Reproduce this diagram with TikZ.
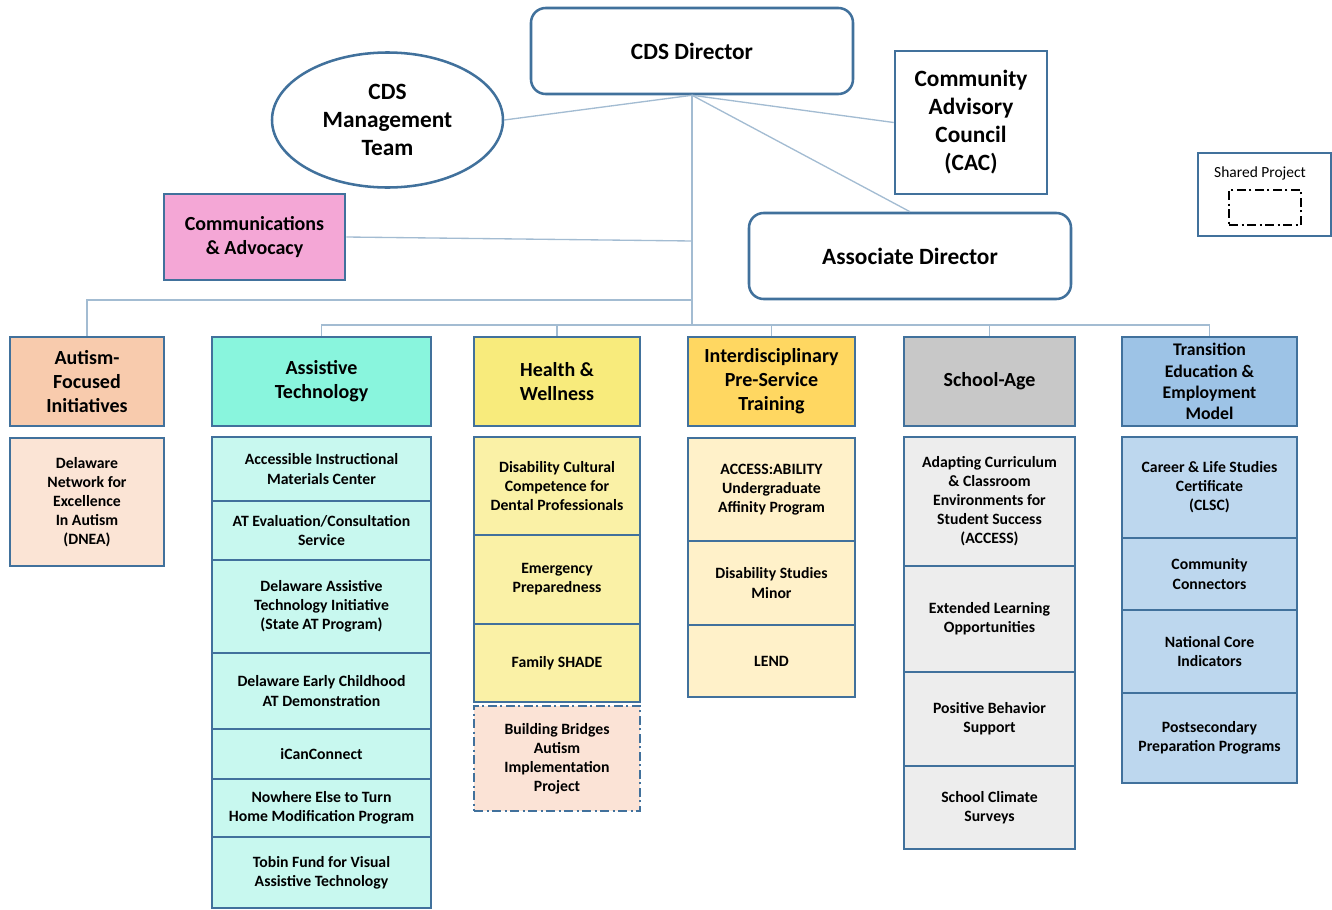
\documentclass[tikz,border=0pt]{standalone}
\usepackage{fontspec}
\setmainfont{Carlito}
\usepackage{xcolor}
\usepackage{tikz}
\usetikzlibrary{shapes.geometric}

\definecolor{bordc}{HTML}{41719C}
\definecolor{wirec}{HTML}{A3BCD2}
\definecolor{autH}{HTML}{F8CBAD}
\definecolor{autS}{HTML}{FBE4D5}
\definecolor{atH}{HTML}{89F5DD}
\definecolor{atS}{HTML}{C8F8EF}
\definecolor{hwH}{HTML}{F8EB7C}
\definecolor{hwS}{HTML}{FAF1A6}
\definecolor{ipH}{HTML}{FFD761}
\definecolor{ipS}{HTML}{FFF1C9}
\definecolor{saH}{HTML}{C8C8C8}
\definecolor{saS}{HTML}{EDEDED}
\definecolor{teH}{HTML}{9DC3E6}
\definecolor{teS}{HTML}{BDD7EE}
\definecolor{commF}{HTML}{F4A7D6}
\definecolor{bbF}{HTML}{FBE3D6}

\begin{document}
\begin{tikzpicture}[x=0.75pt,y=-0.75pt,
  sz/.style 2 args={minimum width=#1*0.75pt, minimum height=#2*0.75pt, inner sep=0pt, align=center},
  top/.style={draw=bordc, line width=1.9pt, fill=white, font=\bfseries\fontsize{17.5}{21}\selectfont},
  head/.style={draw=bordc, line width=2pt, font=\bfseries\fontsize{15}{18}\selectfont},
  item/.style={draw=bordc, line width=2pt, font=\bfseries\fontsize{11.8}{14.3}\selectfont},
  shared/.style={dash pattern=on 7pt off 2.5pt on 1.5pt off 2.5pt},
  wire/.style={draw=wirec, line width=1pt}]
\useasboundingbox (0,0) rectangle (1332,910);

% top level
\node[top, sz={322}{86}, rounded corners=11pt] (Dir) at (692,51) {CDS Director};
\node[top, sz={231}{135}, ellipse] (Mgmt) at (387.5,120) {CDS\\Management\\Team};
\node[top, sz={152}{143}] (CAC) at (971,122.5) {Community\\Advisory\\Council\\(CAC)};
\node[top, sz={181}{86}, fill=commF, font=\bfseries\fontsize{15}{17.5}\selectfont] (Comm) at (254.5,237) {Communications\\\& Advocacy};
\node[top, sz={322}{86}, rounded corners=11pt] (Assoc) at (910,256) {Associate Director};

% legend
\node[draw=bordc, line width=1.5pt, sz={133}{83}] (Legend) at (1264.5,194.5) {};
\node[font=\fontsize{11.6}{13}\selectfont] (LegendText) at (1260,173) {Shared Project};
\node[draw=black, line width=1.7pt, shared, sz={72}{35}] (LegendBox) at (1265,207.5) {};

% column heads
\node[head, sz={154}{89}, fill=autH] (HAut) at (87,381.5) {Autism-\\Focused\\Initiatives};
\node[head, sz={219}{89}, fill=atH] (HAT) at (321.5,381.5) {Assistive\\Technology};
\node[head, sz={166}{89}, fill=hwH] (HHW) at (557,381.5) {Health \&\\Wellness};
\node[head, sz={167}{89}, fill=ipH] (HIP) at (771.5,381.5) {Interdisciplinary\\Pre-Service\\Training};
\node[head, sz={171}{89}, fill=saH] (HSA) at (989.5,381.5) {School-Age};
\node[head, sz={175}{89}, fill=teH, font=\bfseries\fontsize{13.3}{16}\selectfont] (HTE) at (1209.5,381.5) {Transition\\Education \&\\Employment\\Model};

% autism
\node[item, sz={154}{128}, fill=autS] (Dnea) at (87,502) {Delaware\\Network for\\Excellence\\In Autism\\(DNEA)};

% assistive technology
\node[item, sz={219}{64}, fill=atS] (Aimc) at (321.5,469) {Accessible Instructional\\Materials Center};
\node[item, sz={219}{59}, fill=atS] (AtEval) at (321.5,530.5) {AT Evaluation/Consultation\\Service};
\node[item, sz={219}{93}, fill=atS] (Dati) at (321.5,606.5) {Delaware Assistive\\Technology Initiative\\(State AT Program)};
\node[item, sz={219}{76}, fill=atS] (Early) at (321.5,691) {Delaware Early Childhood\\AT Demonstration};
\node[item, sz={219}{50}, fill=atS] (ICan) at (321.5,754) {iCanConnect};
\node[item, sz={219}{58}, fill=atS] (Nowhere) at (321.5,808) {Nowhere Else to Turn\\Home Modification Program};
\node[item, sz={219}{71}, fill=atS] (Tobin) at (321.5,872.5) {Tobin Fund for Visual\\Assistive Technology};

% health and wellness
\node[item, sz={166}{98}, fill=hwS] (Dental) at (557,486) {Disability Cultural\\Competence for\\Dental Professionals};
\node[item, sz={166}{89}, fill=hwS] (Emerg) at (557,579.5) {Emergency\\Preparedness};
\node[item, sz={166}{78}, fill=hwS] (Shade) at (557,663) {Family SHADE};
\node[item, sz={166}{105}, fill=bbF, shared] (Bridges) at (557,758.5) {Building Bridges\\Autism\\Implementation\\Project};

% interdisciplinary
\node[item, sz={167}{103}, fill=ipS] (Access) at (771.5,489.5) {ACCESS:ABILITY\\Undergraduate\\Affinity Program};
\node[item, sz={167}{84}, fill=ipS] (Minor) at (771.5,583) {Disability Studies\\Minor};
\node[item, sz={167}{72}, fill=ipS] (Lend) at (771.5,661) {LEND};

% school-age
\node[item, sz={171}{129}, fill=saS] (Adapt) at (989.5,501.5) {Adapting Curriculum\\\& Classroom\\Environments for\\Student Success\\(ACCESS)};
\node[item, sz={171}{106}, fill=saS] (Extend) at (989.5,619) {Extended Learning\\Opportunities};
\node[item, sz={171}{94}, fill=saS] (Pbs) at (989.5,719) {Positive Behavior\\Support};
\node[item, sz={171}{83}, fill=saS] (Climate) at (989.5,807.5) {School Climate\\Surveys};

% transition
\node[item, sz={175}{101}, fill=teS] (Clsc) at (1209.5,487.5) {Career \& Life Studies\\Certificate\\(CLSC)};
\node[item, sz={175}{72}, fill=teS] (Connect) at (1209.5,574) {Community\\Connectors};
\node[item, sz={175}{83}, fill=teS] (Nci) at (1209.5,651.5) {National Core\\Indicators};
\node[item, sz={175}{90}, fill=teS] (Postsec) at (1209.5,738) {Postsecondary\\Preparation Programs};

% connectors
\coordinate (JComm) at (692,241);
\coordinate (JOne) at (692,300);
\coordinate (JTwo) at (692,325);
\draw[wire, line width=1.4pt] (Dir.south) -- (JTwo);
\draw[wire] (Dir.south) -- (Mgmt.east);
\draw[wire] (Dir.south) -- (CAC.west);
\draw[wire] (Dir.south) -- (Assoc.north);
\draw[wire] (Comm.east) -- (JComm);
\draw[wire] (JOne) -| (HAut.north);
\foreach \h in {HAT,HHW,HIP,HSA,HTE}\draw[wire] (JTwo) -| (\h.north);
\end{tikzpicture}
\end{document}
